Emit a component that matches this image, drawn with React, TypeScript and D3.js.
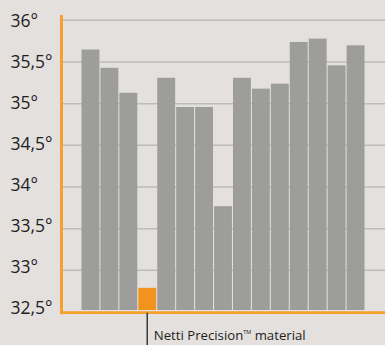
import React from "react";
import * as d3 from "d3";

const categories = ["A", "B", "C", "Netti Precision", "E", "F", "G", "H", "I", "J", "K", "L", "M", "N", "O"];
const values = [35.65, 35.43, 35.13, 32.79, 35.31, 34.96, 34.96, 33.77, 35.31, 35.18, 35.24, 35.74, 35.78, 35.46, 35.7];
const highlight = "Netti Precision";
const yTicks = [36, 35.5, 35, 34.5, 34, 33.5, 33, 32.5];
const tickLabels = ["36°", "35,5°", "35°", "34,5°", "34°", "33,5°", "33°", "32,5°"];
const annotation = "Netti Precision";
const annotationTail = " material";

const W = 385;
const H = 345;
const FONT = "'Open Sans', 'Noto Sans', sans-serif";

export default function App() {
  const y = d3.scaleLinear().domain([32.5, 36]).range([312, 20.3]);
  const yLabel = d3.scaleLinear().domain([32.5, 36]).range([314, 27]);
  const x = d3.scaleBand<string>().domain(categories).range([81.5, 364.5]).paddingInner(0.055).paddingOuter(0);
  const axisX = 61.5;
  const baseY = 312.7;
  const hx = (x(highlight) ?? 0) + x.bandwidth() / 2;

  return (
    <svg width={W} height={H} style={{ position: "absolute", left: 0, top: 0, background: "#e3e0dd" }}>
      <rect x={0} y={0} width={W} height={H} fill="#e3e0dd" />
      {yTicks.slice(0, -1).map((t) => (
        <line key={t} x1={63} x2={W} y1={y(t)} y2={y(t)} stroke="#bebcba" strokeWidth={1.5} />
      ))}
      {categories.map((c, i) => (
        <rect
          key={c}
          x={x(c)}
          y={y(values[i])}
          width={x.bandwidth()}
          height={y(32.5) - 2 - y(values[i])}
          fill={c === highlight ? "#f3931f" : "#9d9d9b"}
        />
      ))}
      <line x1={axisX} x2={axisX} y1={15} y2={baseY + 1.5} stroke="#f5a02a" strokeWidth={3} />
      <line x1={axisX - 1.5} x2={W} y1={baseY} y2={baseY} stroke="#f5a02a" strokeWidth={2.7} />
      {yTicks.map((t, i) => (
        <text key={t} x={10.5} y={yLabel(t)} fontFamily={FONT} fontSize={17.5} fill="#1e1e1e">
          {tickLabels[i]}
        </text>
      ))}
      <line x1={hx} x2={hx} y1={baseY} y2={H} stroke="#3a3a3a" strokeWidth={1.5} />
      <text x={hx + 6.5} y={340} fontFamily={FONT} fontSize={13.2} fill="#1e1e1e">
        {annotation}
        <tspan fontSize={5.5} dy={-6.5}>TM</tspan>
        <tspan dy={6.5}>{annotationTail}</tspan>
      </text>
    </svg>
  );
}
